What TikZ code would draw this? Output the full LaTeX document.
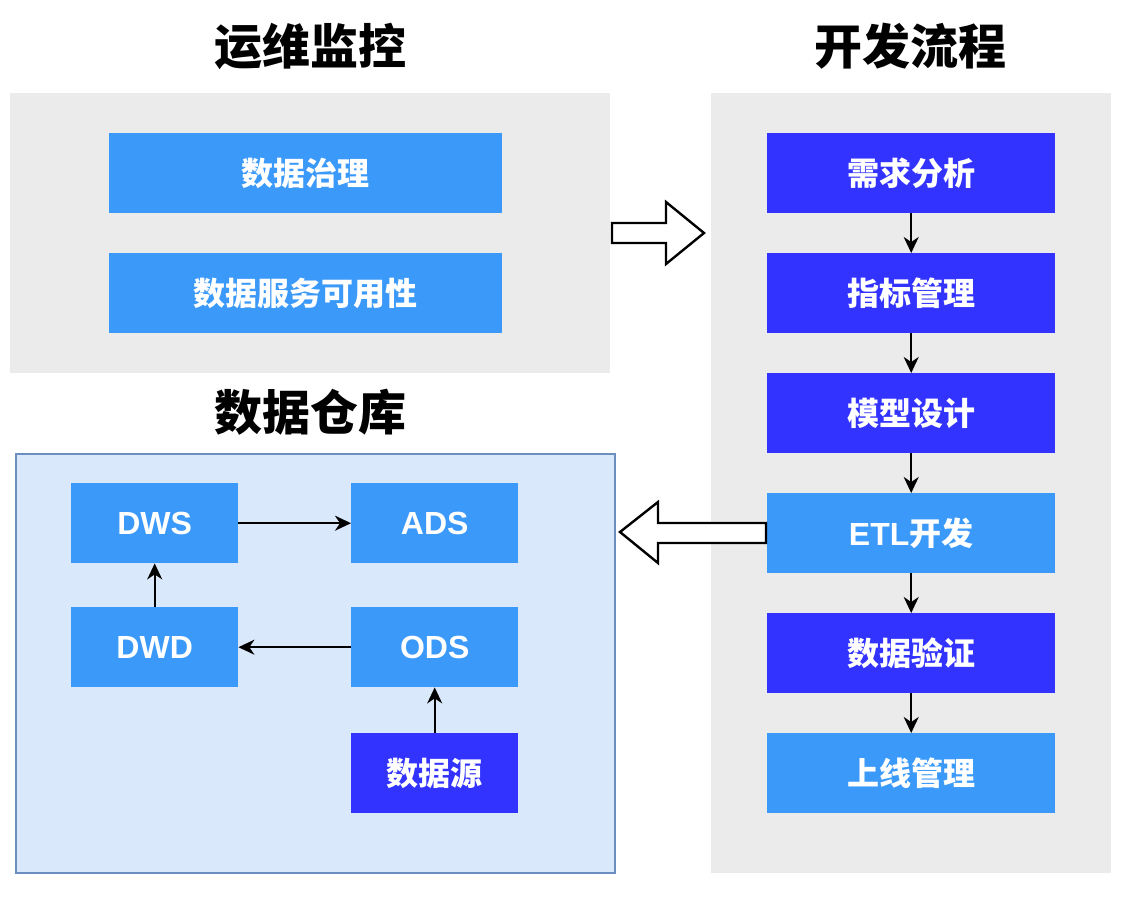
\documentclass[tikz,border=0pt]{standalone}
\usepackage{fontspec}
\setmainfont{Liberation Sans}
\newfontfamily\cjk{Noto Sans CJK SC}
\usetikzlibrary{arrows.meta}
\definecolor{lb}{HTML}{3A99F9}
\definecolor{db}{HTML}{3333FF}
\definecolor{pg}{HTML}{EBEBEB}
\definecolor{pb}{HTML}{DAE8FC}
\definecolor{pbs}{HTML}{6C8EBF}
\begin{document}
\begin{tikzpicture}[x=1pt,y=-1pt,
  panel/.style={rectangle, inner sep=0pt, anchor=north west},
  box/.style={rectangle, inner sep=0pt, anchor=north west, text=white,
    font=\bfseries\fontsize{32}{38}\selectfont},
  bigbox/.style={box, minimum width=288pt, minimum height=80pt},
  dwbox/.style={box, minimum width=167pt, minimum height=80pt},
  ttl/.style={font=\cjk\bfseries\fontsize{48}{56}\selectfont, inner sep=0pt},
  conn/.style={-{Stealth[length=16pt,width=15pt,inset=5pt]}, line width=1.8pt},
  blk/.style={draw=black, fill=white, line width=2.4pt, line join=miter}]
\useasboundingbox (0,0) rectangle (1138,902);
% panels
\node[panel, fill=pg, minimum width=600pt, minimum height=280pt] (p1) at (10,93) {};
\node[panel, fill=pg, minimum width=400pt, minimum height=780pt] (p2) at (711,93) {};
\node[panel, fill=pb, draw=pbs, line width=1.6pt, minimum width=599pt, minimum height=419pt] (p3) at (15,453) {};
% titles
\node[ttl] (t1) at (310,46) {运维监控};
\node[ttl] (t2) at (910,46) {开发流程};
\node[ttl] (t3) at (310,412) {数据仓库};
% ops boxes
\node[box, fill=lb, minimum width=393pt, minimum height=80pt] (g1) at (109,133) {\cjk 数据治理};
\node[box, fill=lb, minimum width=393pt, minimum height=80pt] (g2) at (109,253) {\cjk 数据服务可用性};
% dev flow
\node[bigbox, fill=db] (f1) at (767,133) {\cjk 需求分析};
\node[bigbox, fill=db] (f2) at (767,253) {\cjk 指标管理};
\node[bigbox, fill=db] (f3) at (767,373) {\cjk 模型设计};
\node[bigbox, fill=lb] (f4) at (767,493) {ETL{\cjk 开发}};
\node[bigbox, fill=db] (f5) at (767,613) {\cjk 数据验证};
\node[bigbox, fill=lb] (f6) at (767,733) {\cjk 上线管理};
\foreach \a/\b in {f1/f2,f2/f3,f3/f4,f4/f5,f5/f6}
  \draw[conn] (\a.south) -- (\b.north);
% warehouse
\node[dwbox, fill=lb] (dws) at (71,483) {DWS};
\node[dwbox, fill=lb] (ads) at (351,483) {ADS};
\node[dwbox, fill=lb] (dwd) at (71,607) {DWD};
\node[dwbox, fill=lb] (ods) at (351,607) {ODS};
\node[dwbox, fill=db] (src) at (351,733) {\cjk 数据源};
\draw[conn] (dws.east) -- (ads.west);
\draw[conn] (ods.west) -- (dwd.east);
\draw[conn] (dwd.north) -- (dws.south);
\draw[conn] (src.north) -- (ods.south);
% block arrows
\draw[blk] (612,223) -- (666,223) -- (666,202) -- (704,233) -- (666,264) -- (666,243) -- (612,243) -- cycle;
\draw[blk] (766,523) -- (658,523) -- (658,502) -- (620,532) -- (658,563) -- (658,543) -- (766,543) -- cycle;
\end{tikzpicture}
\end{document}
